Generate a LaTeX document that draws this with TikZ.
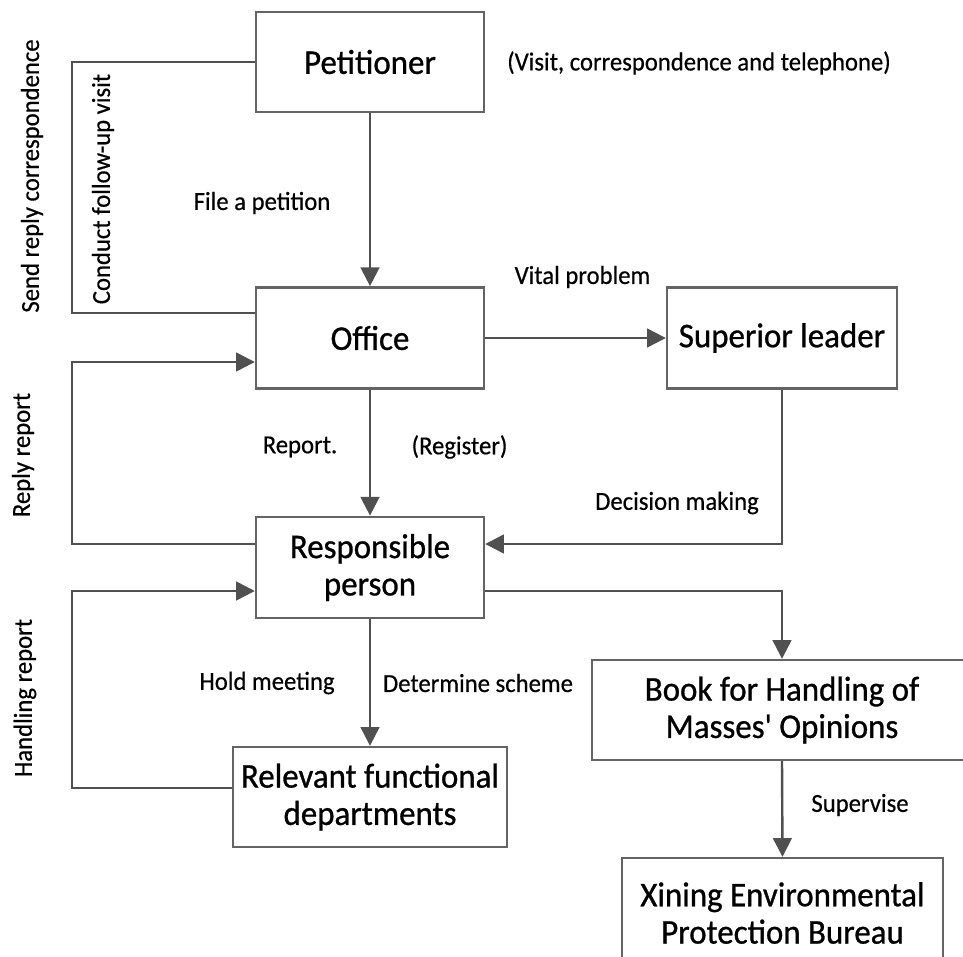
\documentclass[tikz,border=0pt]{standalone}
\usepackage{fontspec}
\setmainfont{Carlito}
\newfontfamily\boxfont[FakeStretch=0.95,FakeBold=0.8]{Carlito}
\newfontfamily\lblfont[FakeStretch=0.95,FakeBold=0.5]{Carlito}
\usetikzlibrary{arrows.meta}

\definecolor{linegray}{RGB}{80,80,80}
\definecolor{boxgray}{RGB}{100,100,100}

\tikzset{every picture/.style={line width=0.75pt}}
\tikzset{
	box/.style={draw=boxgray, line width=1.8pt, fill=white, align=center, inner sep=2pt,
		font=\boxfont\fontsize{26}{28}\selectfont},
	lbl/.style={inner sep=0pt, font=\lblfont\fontsize{19.5}{22}\selectfont},
	flow/.style={draw=linegray, line width=1.8pt},
	flowarrow/.style={flow, -{Triangle[length=14pt,width=14pt]}}}

\begin{document}
\begin{tikzpicture}[x=0.75pt,y=0.75pt,yscale=-1,xscale=1]
	\useasboundingbox (0,0) rectangle (963,956);
	\clip (0,0) rectangle (963,956);
	%rail on the left for the three feedback loops
	\coordinate (rail) at (72,0);

	%Shape: Rectangle [Petitioner]
	\node[box, minimum width=171pt, minimum height=75pt] (pet) at (370,62) {Petitioner};
	%Shape: Rectangle [Office]
	\node[box, minimum width=171pt, minimum height=76pt] (office) at (370,338) {Office};
	%Shape: Rectangle [Superior leader]
	\node[box, minimum width=172.5pt, minimum height=76pt] (sup) at (782,338) {Superior leader};
	%Shape: Rectangle [Responsible person]
	\node[box, minimum width=171pt, minimum height=76pt] (resp) at (370,567.5) {Responsible\\person};
	%Shape: Rectangle [Relevant functional departments]
	\node[box, minimum width=205.5pt, minimum height=75pt] (dept) at (370,797) {Relevant functional\\departments};
	%Shape: Rectangle [Book]
	\node[box, minimum width=285pt, minimum height=75pt] (book) at (782,710) {Book for Handling of\\Masses{\char"0027} Opinions};
	%Shape: Rectangle [Xining]
	\node[box, minimum width=241pt, minimum height=82.5pt] (xin) at (782.5,913) {Xining Environmental\\Protection Bureau};

	%Straight Lines
	\draw[flowarrow] (pet.south) -- (office.north);
	\draw[flowarrow] (office.east) -- (sup.west);
	\draw[flowarrow] (office.south) -- (resp.north);
	\draw[flowarrow] (resp.south) -- (dept.north);
	\draw[flowarrow] (book.south) -- (xin.north);
	%Elbow Lines
	\draw[flowarrow] (sup.south) |- (resp.east |- 0,544);
	\draw[flowarrow] (resp.east |- 0,591) -| (book.north);
	%Loops back along the rail
	\draw[flow] (pet.west) -| (rail |- 0,313) -- (office.west |- 0,313);
	\draw[flowarrow] (resp.west |- 0,544) -| (rail |- 0,362) -- (office.west |- 0,362);
	\draw[flowarrow] (dept.west |- 0,788) -| (rail |- 0,591) -- (resp.west |- 0,591);

	% Text Node
	\node[lbl] (tVisit) at (699,63) {(Visit, correspondence and telephone)};
	% Text Node
	\node[lbl] (tFile) at (262,203) {File a petition};
	% Text Node
	\node[lbl] (tVital) at (582.5,277) {Vital problem};
	% Text Node
	\node[lbl] (tReport) at (300,447) {Report.};
	% Text Node
	\node[lbl] (tRegister) at (459.5,447) {(Register)};
	% Text Node
	\node[lbl] (tDecision) at (677,503) {Decision making};
	% Text Node
	\node[lbl] (tHold) at (267,683) {Hold meeting};
	% Text Node
	\node[lbl] (tScheme) at (478,683) {Determine scheme};
	% Text Node
	\node[lbl] (tSupervise) at (860,805) {Supervise};
	% Text Node
	\node[lbl, rotate=90] (tSend) at (32,176) {Send reply correspondence};
	% Text Node
	\node[lbl, rotate=90] (tFollow) at (103,189) {Conduct follow-up visit};
	% Text Node
	\node[lbl, rotate=90] (tReply) at (23,455) {Reply report};
	% Text Node
	\node[lbl, rotate=90] (tHandling) at (25,698) {Handling report};

\end{tikzpicture}
\end{document}
